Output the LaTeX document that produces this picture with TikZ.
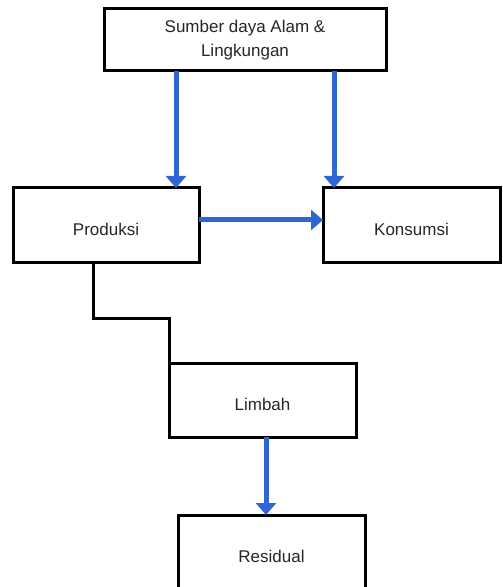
\documentclass[tikz,border=0pt]{standalone}
\usepackage{fontspec}
\setmainfont{Liberation Sans}
\usepackage{tikz}
\usetikzlibrary{arrows.meta}
\definecolor{flowblue}{RGB}{48,102,212}
\tikzset{box/.style={draw=black,line width=1.5pt,outer sep=0pt,fill=white,text=black!85,align=center,font=\fontsize{8.5}{12}\selectfont}}
\tikzset{onebox/.style={box,minimum height=37pt,text height=11pt}}
\tikzset{flow/.style={->,color=flowblue,line width=2.5pt}}
\tikzset{link/.style={color=black,line width=1.5pt,line join=miter}}

\begin{document}
\begin{tikzpicture}[>={Triangle[width=10pt,length=6pt]},x=0.5pt,y=-0.5pt]
			\useasboundingbox (0,0) rectangle (502,587);
			\node[box,minimum width=141pt,minimum height=31pt] (sda) at (245,40) {Sumber daya Alam \&\\ Lingkungan};
			\node[onebox,minimum width=93pt] (prod) at (106,225) {Produksi};
			\node[onebox,minimum width=88.5pt] (kons) at (411.5,225) {Konsumsi};
			\node[onebox,minimum width=93.5pt] (limbah) at (262.5,400) {Limbah};
			\node[onebox,minimum width=93.5pt] (resid) at (271.5,552) {Residual};
			\coordinate (c1) at (176,0);
			\coordinate (c2) at (334,0);
			\coordinate (c3) at (0,220);
			\coordinate (c4) at (93,0);
			\coordinate (bend) at (169,318);
			\coordinate (c5) at (266,0);
			\draw[flow] (sda.south -| c1) -- (prod.north -| c1);
			\draw[flow] (sda.south -| c2) -- (kons.north -| c2);
			\draw[flow] (prod.east |- c3) -- (kons.west |- c3);
			\draw[link] (prod.south -| c4) |- (bend) -- (limbah.north west);
			\draw[flow] (limbah.south -| c5) -- (resid.north -| c5);
			\end{tikzpicture}
\end{document}
